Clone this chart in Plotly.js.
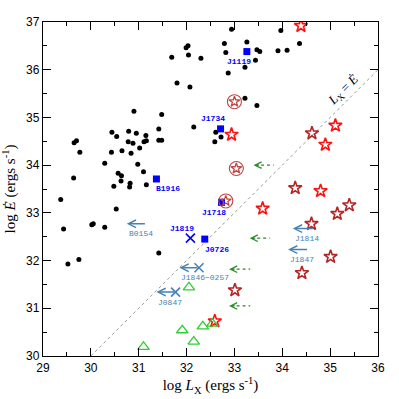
<!DOCTYPE html>
<html><head><meta charset="utf-8">
<script src="https://cdn.plot.ly/plotly-3.0.1.min.js"></script>
<style>body{margin:0;background:#fff}#c{width:399px;height:399px}</style>
</head><body><div id="c"></div>
<script>
// Pulsars (black dots)
var psrX = [31.69,31.99,32.03,32.04,32.30,31.80,32.07,30.90,31.48,32.15,31.42,31.42,31.48,29.65,29.70,29.77,30.44,30.54,30.79,30.95,31.15,30.78,30.88,31.11,31.16,31.02,30.43,30.65,30.84,30.29,30.98,30.57,30.64,31.10,29.64,30.63,30.48,30.82,30.81,31.16,29.37,30.53,29.43,30.02,30.05,30.29,29.52,29.75,31.42,32.94,33.97,34.36,32.79,33.26,32.82,33.47,33.53,33.91,34.10,33.44,33.22,32.87,33.22,33.47,32.61,32.72,32.59];
var psrY = [36.26,36.46,36.50,36.31,36.24,35.72,35.64,35.13,35.06,34.80,34.76,34.52,34.52,34.47,34.51,34.27,34.69,34.60,34.71,34.67,34.62,34.49,34.46,34.49,34.51,34.36,34.27,34.30,34.25,34.04,34.02,33.83,33.78,33.86,33.73,33.67,33.56,33.62,33.54,33.59,33.28,33.08,32.66,32.75,32.77,32.70,31.93,32.02,32.16,36.85,36.82,36.55,36.55,36.58,36.36,36.42,36.38,36.40,36.41,36.20,36.05,35.93,35.40,35.25,34.69,34.59,34.49];

// Named blue squares
var sqNames = ['J1119','J1734','B1916','J1718','J0726'];
var sqX = [33.26,32.71,31.37,32.73,32.38];
var sqY = [36.38,34.76,33.71,33.22,32.45];

// J1819 cross
var crNames = ['J1819'];
var crX = [32.08];
var crY = [32.47];

// Bright red stars
var redX = [34.39,32.94,35.11,34.90,33.59,34.80,32.59];
var redY = [36.92,34.64,34.83,34.43,33.09,33.46,30.73];

// Dark red stars
var dredX = [34.62,34.27,35.40,35.15,34.61,35.01,34.41,33.01];
var dredY = [34.67,33.52,33.16,32.98,32.77,32.08,31.74,31.38];

// Circled stars
var circX = [33.00,33.04,32.82];
var circY = [35.33,33.93,33.25];

// Green triangles
var triX = [32.05,31.91,31.10,32.15,32.34,32.54];
var triY = [31.44,30.54,30.19,30.30,30.62,30.68];

// Upper-limit arrows (steel blue)
var ulNames = ['B0154','J1846\u22120257','J0847','J1814','J1847'];
var ulHead = [30.75,31.85,31.37,34.22,34.12];
var ulTail = [31.16,32.26,31.77,34.67,34.55];
var ulY = [32.77,31.85,31.34,32.67,32.23];
var ulCross = [false,true,true,false,false];

// Green dotted arrows
var gaHead = [33.40,33.32,32.89,32.89];
var gaTail = [33.82,33.74,33.33,33.33];
var gaY = [34.00,32.47,31.82,31.05];

// Equality line
var eqX = [30,36];
var eqY = [30,36];

var RED = '#ff1010', DRED = '#b52525', BLUE = '#0000ff', STEEL = '#4682b4', GREEN = '#33cc33', DGREEN = '#2a8a2a';

var traces = [];
traces.push({x:eqX, y:eqY, mode:'lines', line:{color:'#999', width:1, dash:'dot'}, hoverinfo:'skip'});
traces.push({x:psrX, y:psrY, mode:'markers', marker:{symbol:'circle', size:5, color:'black'}});
traces.push({x:sqX, y:sqY, mode:'markers', marker:{symbol:'square', size:7, color:BLUE}});
traces.push({x:crX, y:crY, mode:'markers', marker:{symbol:'x-thin-open', size:9, color:BLUE, line:{width:1.6, color:BLUE}}});
traces.push({x:redX, y:redY, mode:'markers', marker:{symbol:'star-open', size:10, color:RED, line:{width:1.6, color:RED}}});
traces.push({x:dredX, y:dredY, mode:'markers', marker:{symbol:'star-open', size:10, color:DRED, line:{width:1.6, color:DRED}}});
traces.push({x:circX, y:circY, mode:'markers', marker:{symbol:'circle-open', size:14, color:'#c04545', line:{width:1.1, color:'#c04545'}}});
traces.push({x:circX, y:circY, mode:'markers', marker:{symbol:'star-open', size:8, color:'#c04545', line:{width:1.3, color:'#c04545'}}});
traces.push({x:triX, y:triY, mode:'markers', marker:{symbol:'triangle-up-open', size:10, color:GREEN, line:{width:1.3, color:GREEN}}});

var cx = [], cy = [];
for (var i=0;i<ulNames.length;i++){ if(ulCross[i]){cx.push(ulTail[i]); cy.push(ulY[i]);} }
traces.push({x:cx, y:cy, mode:'markers', marker:{symbol:'x-thin-open', size:9, color:STEEL, line:{width:1.6, color:STEEL}}});

for (var i=0;i<gaHead.length;i++){
  traces.push({x:[gaHead[i]+0.03, gaTail[i]], y:[gaY[i],gaY[i]], mode:'lines', line:{color:DGREEN, width:1.3, dash:'dot'}, hoverinfo:'skip'});
}

var ann = [];
var lblFont = {family:'Liberation Mono, DejaVu Sans Mono, monospace', size:8, color:BLUE};
var sqOff = [[-8,-10],[-8,10],[12,-10],[-8,-10],[12,-10]];
for (var i=0;i<sqNames.length;i++){
  ann.push({x:sqX[i], y:sqY[i], text:'<b>'+sqNames[i]+'</b>', showarrow:false, xshift:sqOff[i][0], yshift:sqOff[i][1], font:lblFont});
}
ann.push({x:crX[0], y:crY[0], text:'<b>'+crNames[0]+'</b>', showarrow:false, xshift:-8, yshift:10, font:lblFont});

for (var i=0;i<ulNames.length;i++){
  ann.push({x:ulHead[i], y:ulY[i], ax:ulTail[i], ay:ulY[i], axref:'x', ayref:'y', xref:'x', yref:'y', text:'', showarrow:true, arrowhead:5, arrowsize:1, arrowwidth:1.5, arrowcolor:STEEL, standoff:0});
  ann.push({x:ulHead[i], y:ulY[i], text:ulNames[i], showarrow:false, xanchor:'left', yshift:-10, font:{family:'Liberation Mono, DejaVu Sans Mono, monospace', size:8, color:STEEL}});
}
for (var i=0;i<gaHead.length;i++){
  ann.push({x:gaHead[i], y:gaY[i], ax:7, ay:0, text:'', showarrow:true, arrowhead:5, arrowsize:1, arrowwidth:1.3, arrowcolor:DGREEN, standoff:0});
}
ann.push({x:35.27, y:35.57, text:'<i>L</i><sub>X</sub> = <i>Ė</i>', showarrow:false, textangle:-45, font:{family:'Liberation Serif', size:13, color:'black'}});

var axisBase = {
  dtick:1, ticks:'inside', ticklen:8, tickwidth:1, tickcolor:'black',
  mirror:'ticks', showline:true, linecolor:'black', linewidth:1.2,
  showgrid:false, zeroline:false,
  minor:{dtick:0.5, ticks:'inside', ticklen:4, tickcolor:'black', tickwidth:1, showgrid:false},
  tickfont:{family:'Liberation Sans, Arial', size:12, color:'black'}
};
var layout = {
  width:399, height:399,
  margin:{l:43, r:21, t:22, b:43},
  paper_bgcolor:'white', plot_bgcolor:'white',
  showlegend:false,
  xaxis:Object.assign({}, axisBase, {range:[29,36], tick0:29, title:{text:'log <i>L</i><sub>X</sub> (ergs s<sup>-1</sup>)', font:{family:'Liberation Serif', size:15, color:'black'}, standoff:6}}),
  yaxis:Object.assign({}, axisBase, {range:[30,37], tick0:30, title:{text:'log <i>Ė</i> (ergs s<sup>-1</sup>)', font:{family:'Liberation Serif', size:15, color:'black'}, standoff:6}}),
  annotations:ann
};
Plotly.newPlot('c', traces, layout, {staticPlot:true, displayModeBar:false});
</script></body></html>
